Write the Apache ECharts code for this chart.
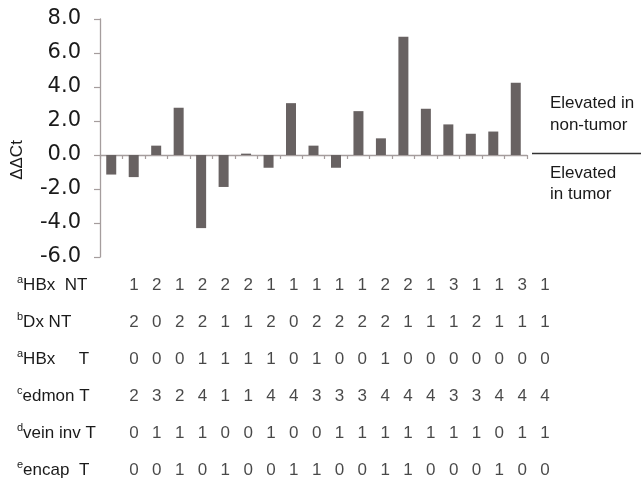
<!DOCTYPE html>
<html>
<head>
<meta charset="utf-8">
<script src="https://cdn.jsdelivr.net/npm/echarts@6/dist/echarts.min.js"></script>
<style>html,body{margin:0;padding:0;background:#fff}#c{width:641px;height:483px}</style>
</head>
<body>
<div id="c"></div>
<script>
// ---- data ----
var samples = ['1','2','3','4','5','6','7','8','9','10','11','12','13','14','15','16','17','18','19'];
var ddct = [-1.15, -1.3, 0.55, 2.78, -4.3, -1.88, 0.08, -0.75, 3.05, 0.55, -0.75, 2.58, 0.98, 6.95, 2.72, 1.8, 1.25, 1.38, 4.25];
var yTicks = [-6, -4, -2, 0, 2, 4, 6, 8];

var rowSup   = ['a', 'b', 'a', 'c', 'd', 'e'];
var rowNames = ['HBx  NT', 'Dx NT', 'HBx     T', 'edmon T', 'vein inv T', 'encap  T'];
var hbxNT   = [1,2,1,2,2,2,1,1,1,1,1,2,2,1,3,1,1,3,1];
var dxNT    = [2,0,2,2,1,1,2,0,2,2,2,2,1,1,1,2,1,1,1];
var hbxT    = [0,0,0,1,1,1,1,0,1,0,0,1,0,0,0,0,0,0,0];
var edmonT  = [2,3,2,4,1,1,4,4,3,3,3,4,4,4,3,3,4,4,4];
var veinT   = [0,1,1,1,0,0,1,0,0,1,1,1,1,1,1,1,0,1,1];
var encapT  = [0,0,1,0,1,0,0,1,1,0,0,1,1,0,0,0,1,0,0];
var tableRows = [hbxNT, dxNT, hbxT, edmonT, veinT, encapT];

var annotUp = 'Elevated in\nnon-tumor';
var annotDown = 'Elevated\nin tumor';
var yName = 'ΔΔCt';

// ---- build ----
var cells = [];
tableRows.forEach(function (row, r) {
  row.forEach(function (v, c) { cells.push([c, r, v]); });
});
var rowLabels = rowNames.map(function (n, i) { return '{s|' + rowSup[i] + '}{t|' + n + '}'; });

var axisColor = '#a59d9d';
var chart = echarts.init(document.getElementById('c'), null, {renderer: 'canvas'});
chart.setOption({
  backgroundColor: '#ffffff',
  animation: false,
  grid: [
    {left: 100, right: 114, top: 19, height: 238},
    {left: 122.6, right: 84.6, top: 285, bottom: 13}
  ],
  xAxis: [
    {
      type: 'category', gridIndex: 0, data: samples,
      axisLine: {onZero: true, lineStyle: {color: axisColor, width: 1.3}},
      axisTick: {show: true, inside: false, length: 4, lineStyle: {color: axisColor, width: 1.2}},
      axisLabel: {show: false},
      splitLine: {show: false}
    },
    {
      type: 'category', gridIndex: 1, data: samples,
      axisLine: {show: false}, axisTick: {show: false}, axisLabel: {show: false}, splitLine: {show: false}
    }
  ],
  yAxis: [
    {
      type: 'value', gridIndex: 0, min: yTicks[0], max: yTicks[yTicks.length - 1], interval: 2,
      axisLine: {show: true, lineStyle: {color: axisColor, width: 1.3}},
      axisTick: {show: true, length: 6, lineStyle: {color: axisColor, width: 1.2}},
      axisLabel: {
        margin: 19, color: '#1a1a1a', fontSize: 21, fontFamily: 'DejaVu Sans',
        formatter: function (v) { return v.toFixed(1); }
      },
      splitLine: {show: false}
    },
    {
      type: 'category', gridIndex: 1, data: rowLabels, inverse: true, boundaryGap: false,
      axisLine: {show: false}, axisTick: {show: false}, splitLine: {show: false},
      axisLabel: {
        align: 'left', margin: 105.6, color: '#1a1a1a',
        rich: {
          s: {fontSize: 11, fontFamily: 'Liberation Sans', color: '#1a1a1a', padding: [0, 0, 10, 0]},
          t: {fontSize: 17, fontFamily: 'Liberation Sans', color: '#1a1a1a'}
        }
      }
    }
  ],
  graphic: [
    {type: 'text', x: 17, y: 160, rotation: Math.PI / 2,
     style: {text: yName, fontSize: 17, fontFamily: 'Liberation Sans', fill: '#1a1a1a', align: 'center', verticalAlign: 'middle'}},
    {type: 'line', shape: {x1: 532, y1: 153.5, x2: 641, y2: 153.5}, style: {stroke: '#333333', lineWidth: 1.3}},
    {type: 'text', x: 550, y: 92,
     style: {text: annotUp, fontSize: 17, lineHeight: 22, fontFamily: 'Liberation Sans', fill: '#1a1a1a'}},
    {type: 'text', x: 550, y: 163,
     style: {text: annotDown, fontSize: 17, lineHeight: 21, fontFamily: 'Liberation Sans', fill: '#1a1a1a'}}
  ],
  series: [
    {
      type: 'bar', xAxisIndex: 0, yAxisIndex: 0, data: ddct, barWidth: 10,
      itemStyle: {color: '#686262'}
    },
    {
      type: 'scatter', xAxisIndex: 1, yAxisIndex: 1, data: cells,
      symbol: 'circle', symbolSize: 1, itemStyle: {color: 'rgba(0,0,0,0)'},
      label: {
        show: true, position: 'inside', color: '#1a1a1a', fontSize: 17, fontFamily: 'Liberation Sans',
        formatter: function (p) { return String(p.value[2]); }
      },
      emphasis: {disabled: true}
    }
  ]
});
</script>
</body>
</html>
